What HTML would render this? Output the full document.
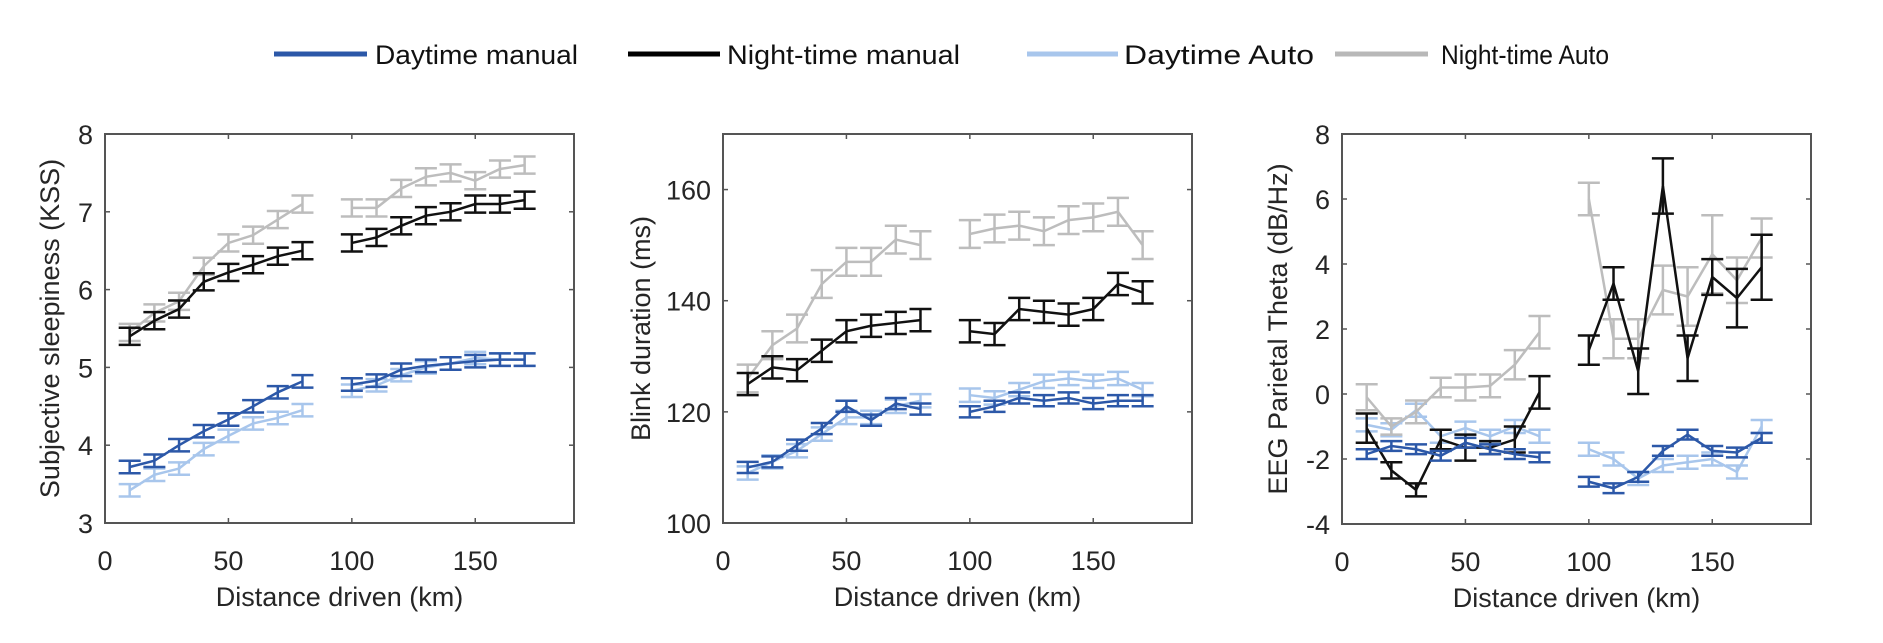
<!DOCTYPE html>
<html><head><meta charset="utf-8"><style>
html,body{margin:0;padding:0;background:#fff;}
svg text{font-family:"Liberation Sans",Arial,sans-serif;fill:#262626;}
</style></head><body>
<svg id="s" width="1883" height="638" xmlns="http://www.w3.org/2000/svg">
<rect width="1883" height="638" fill="#fff"/>
<g stroke-width="5">
<line x1="274" y1="54" x2="367" y2="54" stroke="#2c58a8"/>
<line x1="628" y1="54" x2="720" y2="54" stroke="#000"/>
<line x1="1027" y1="54" x2="1118" y2="54" stroke="#a8c6ec"/>
<line x1="1335" y1="54" x2="1428" y2="54" stroke="#b8b8b8"/>
</g>
<g font-size="27">
<text x="375" y="64" textLength="203" lengthAdjust="spacingAndGlyphs" style="fill:#111">Daytime manual</text>
<text x="727" y="64" textLength="233" lengthAdjust="spacingAndGlyphs" style="fill:#111">Night-time manual</text>
<text x="1124" y="64" textLength="190" lengthAdjust="spacingAndGlyphs" style="fill:#111">Daytime Auto</text>
<text x="1441" y="64" textLength="168" lengthAdjust="spacingAndGlyphs" style="fill:#111">Night-time Auto</text>
</g>
</svg>
<script>
const S=document.getElementById('s'),NS='http://www.w3.org/2000/svg';
function el(t,a,txt){const e=document.createElementNS(NS,t);for(const k in a)e.setAttribute(k,a[k]);if(txt!==undefined)e.textContent=txt;S.appendChild(e);return e;}
const X=[10,20,30,40,50,60,70,80,100,110,120,130,140,150,160,170];
const C={DA:'#a8c6ec',NA:'#bdbdbd',NM:'#111',DM:'#2c58a8'};
const panels=[
{l:105,r:574,t:134,b:523,y0:3,y1:8,ticks:[3,4,5,6,7,8],lab:'Subjective sleepiness (KSS)',lx:49,
 d:{NA:[[5.45,5.7,5.85,6.3,6.6,6.7,6.9,7.1,7.05,7.05,7.3,7.45,7.5,7.4,7.55,7.6],.11],
    NM:[[5.4,5.6,5.75,6.1,6.22,6.32,6.43,6.5,6.6,6.67,6.82,6.95,7.0,7.1,7.1,7.15],.11],
    DA:[[3.42,3.62,3.7,3.95,4.12,4.28,4.35,4.45,4.7,4.77,4.9,5.0,5.05,5.12,5.1,5.1],.08],
    DM:[[3.72,3.8,4.0,4.18,4.33,4.5,4.68,4.82,4.78,4.83,4.97,5.02,5.05,5.08,5.1,5.1],.08]}},
{l:723,r:1192,t:134,b:523,y0:100,y1:170,ticks:[100,120,140,160],lab:'Blink duration (ms)',lx:640,
 d:{NA:[[126,132,135,143,147,147,151,150,152,153,153.5,152.5,154.5,155,156,150],2.5],
    NM:[[125,128,127.5,131,134.5,135.5,136,136.5,134.5,134,138.5,138,137.5,138.5,143,141.5],2],
    DA:[[109,111,113,116,119,119,121,122,123,122.5,124,125.5,126,125.5,126,124],1.2],
    DM:[[110,111,114,117,121,118.5,121.5,120.5,120,121,122.5,122,122.5,121.5,122,122],1]}},
{l:1342,r:1811,t:134,b:524,y0:-4,y1:8,ticks:[-4,-2,0,2,4,6,8],lab:'EEG Parietal Theta (dB/Hz)',lx:1277,
 d:{NA:[[-0.1,-1.0,-0.55,0.2,0.2,0.25,0.9,1.9,6.0,1.7,1.7,3.2,3.0,4.3,3.5,4.8],[.4,.25,.35,.3,.4,.35,.45,.5,.5,.6,.6,.75,.9,1.2,.7,.6]],
    NM:[[-1.05,-2.35,-2.95,-1.4,-1.65,-1.65,-1.4,0.05,1.35,3.4,0.7,6.4,1.1,3.6,2.95,3.9],[.45,.25,.2,.3,.4,.2,.4,.5,.45,.5,.7,.85,.7,.55,.9,1.0]],
    DA:[[-0.95,-1.1,-0.5,-1.3,-1.05,-1.3,-1.0,-1.3,-1.7,-2.0,-2.6,-2.2,-2.1,-2.0,-2.4,-1.0],.2],
    DM:[[-1.85,-1.6,-1.7,-1.9,-1.5,-1.7,-1.85,-1.95,-2.7,-2.9,-2.55,-1.75,-1.25,-1.75,-1.8,-1.35],.15]}}
];
for(const p of panels){
 const sx=v=>p.l+(v/190)*(p.r-p.l), sy=v=>p.b-(v-p.y0)/(p.y1-p.y0)*(p.b-p.t);
 el('rect',{x:p.l,y:p.t,width:p.r-p.l,height:p.b-p.t,fill:'none',stroke:'#555','stroke-width':2});
 for(const v of [0,50,100,150]){const x=sx(v);
  el('line',{x1:x,y1:p.b,x2:x,y2:p.b-5,stroke:'#555','stroke-width':1.5});
  el('line',{x1:x,y1:p.t,x2:x,y2:p.t+5,stroke:'#555','stroke-width':1.5});
  el('text',{x:x,y:p.b+47,'text-anchor':'middle','font-size':27},String(v));}
 for(const v of p.ticks){const y=sy(v);
  el('line',{x1:p.l,y1:y,x2:p.l+5,y2:y,stroke:'#555','stroke-width':1.5});
  el('line',{x1:p.r,y1:y,x2:p.r-5,y2:y,stroke:'#555','stroke-width':1.5});
  el('text',{x:p.l-12,y:y+10,'text-anchor':'end','font-size':27},String(v));}
 el('text',{x:(p.l+p.r)/2,y:p.b+83,'text-anchor':'middle','font-size':27},'Distance driven (km)');
 el('text',{x:0,y:0,'text-anchor':'middle','font-size':27,transform:`translate(${p.lx+10},${(p.t+p.b)/2}) rotate(-90)`},p.lab);
 for(const k of ['DA','NA','NM','DM']){
  const [vals,err]=p.d[k];const c=C[k];
  for(const seg of [[0,8],[8,16]]){
   let pts=[];for(let i=seg[0];i<seg[1];i++)pts.push(sx(X[i])+','+sy(vals[i]));
   el('polyline',{points:pts.join(' '),fill:'none',stroke:c,'stroke-width':2.5});
  }
  for(let i=0;i<16;i++){const e=Array.isArray(err)?err[i]:err;const x=sx(X[i]);
   const a=sy(vals[i]+e),b=sy(vals[i]-e);
   el('line',{x1:x,y1:a,x2:x,y2:b,stroke:c,'stroke-width':2.5});
   el('line',{x1:x-11,y1:a,x2:x+11,y2:a,stroke:c,'stroke-width':2.5});
   el('line',{x1:x-11,y1:b,x2:x+11,y2:b,stroke:c,'stroke-width':2.5});}
 }
}
</script>
</body></html>
